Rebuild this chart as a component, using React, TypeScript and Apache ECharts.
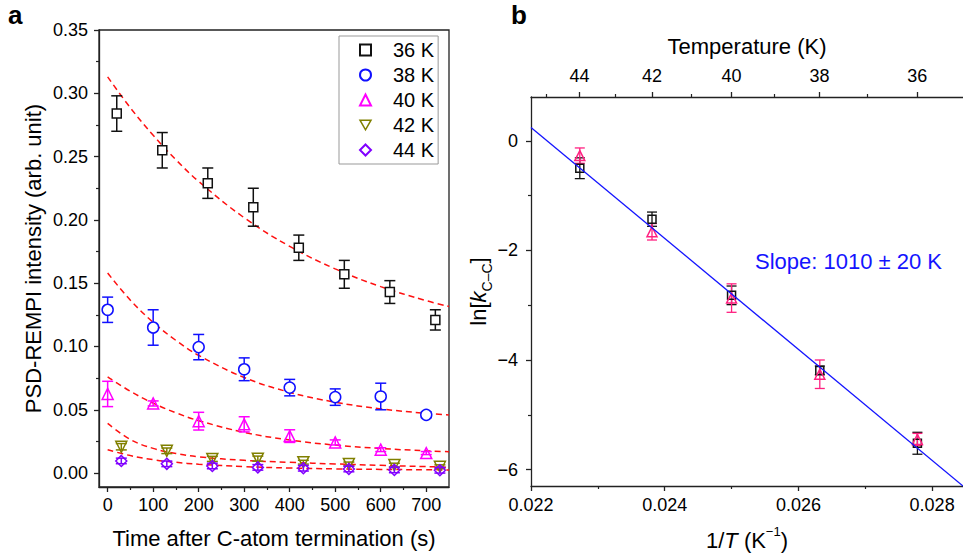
import React, { useEffect, useRef } from 'react';
import * as echarts from 'echarts';

const FONT = "'Liberation Sans', Arial, Helvetica, sans-serif";
const AX = '#222';

// ---------- Panel a data ----------
const t36 = [20, 120, 220, 320, 420, 520, 620, 720];
const v36 = [0.284, 0.255, 0.229, 0.21, 0.178, 0.157, 0.143, 0.121];
const e36 = [0.014, 0.014, 0.012, 0.015, 0.01, 0.011, 0.009, 0.008];

const t38 = [0, 100, 200, 300, 400, 500, 600, 700];
const v38 = [0.129, 0.115, 0.0995, 0.082, 0.0675, 0.06, 0.0605, 0.046];
const e38 = [0.01, 0.014, 0.01, 0.009, 0.0065, 0.0065, 0.0105, 0.0022];

const t40 = [0, 100, 200, 300, 400, 500, 600, 700];
const v40 = [0.0625, 0.055, 0.041, 0.0385, 0.0292, 0.0242, 0.0185, 0.0158];
const e40 = [0.01, 0.002, 0.007, 0.006, 0.005, 0.002, 0.0015, 0.0012];

const t42 = [30, 130, 230, 330, 430, 530, 630, 730];
const v42 = [0.0208, 0.0176, 0.0112, 0.0114, 0.0086, 0.0072, 0.0063, 0.005];
const e42 = [0.0025, 0.0022, 0.002, 0.002, 0.0015, 0.0015, 0.0015, 0.0015];

const t44 = [30, 130, 230, 330, 430, 530, 630, 730];
const v44 = [0.0096, 0.0073, 0.0056, 0.0045, 0.0038, 0.0032, 0.0025, 0.0022];
const e44 = [0.0022, 0.0022, 0.0022, 0.0022, 0.0022, 0.0022, 0.0022, 0.0022];

// fitted decay curves
const fitT = [0, 50, 100, 150, 200, 300, 400, 500, 600, 700, 750];
const fit36 = [0.313, 0.2885, 0.2668, 0.2475, 0.2304, 0.2017, 0.1791, 0.1613, 0.1473, 0.1362, 0.1316];
const fit38 = [0.158, 0.1366, 0.1191, 0.1048, 0.093, 0.0755, 0.0638, 0.056, 0.0507, 0.0472, 0.0459];
const fit40 = [0.076, 0.0646, 0.0552, 0.0476, 0.0414, 0.0322, 0.0261, 0.0221, 0.0194, 0.0176, 0.0169];
const fit42 = [0.0392, 0.0265, 0.0195, 0.0155, 0.0128, 0.0101, 0.0085, 0.0072, 0.0061, 0.0051, 0.0046];
const fit44 = [0.0184, 0.0138, 0.0106, 0.0085, 0.007, 0.0051, 0.004, 0.0033, 0.0029, 0.0026, 0.0025];

const legendNames = ['36 K', '38 K', '40 K', '42 K', '44 K'];

const aXTicks = [0, 100, 200, 300, 400, 500, 600, 700];
const aXMinor = [50, 150, 250, 350, 450, 550, 650];
const aYTicks = [0, 0.05, 0.1, 0.15, 0.2, 0.25, 0.3, 0.35];
const aYMinor = [0.025, 0.075, 0.125, 0.175, 0.225, 0.275, 0.325];

// ---------- Panel b data ----------
const invT = [0.02273, 0.02381, 0.025, 0.02632, 0.02778];
const lnSq = [-0.5, -1.43, -2.82, -4.19, -5.52];
const errSq = [0.19, 0.13, 0.17, 0.08, 0.2];
const lnTri = [-0.27, -1.66, -2.87, -4.26, -5.45];
const errTri = [0.14, 0.15, 0.26, 0.26, 0.11];
const fitLine = [
  [0.022, 0.245],
  [0.028462, -6.3],
];

const bXTicks = [0.022, 0.024, 0.026, 0.028];
const bXMinor = [0.023, 0.025, 0.027];
const bYTicks = [-6, -4, -2, 0];
const bYMinor = [-5, -3, -1];
const tempTicks = [44, 42, 40, 38, 36];
const tempMinor = [45, 43, 41, 39, 37];

const minus = (v: number) => (v < 0 ? '\u2212' + Math.abs(v) : String(v));

function errorBar(
  name: string,
  xs: number[],
  ys: number[],
  es: number[],
  color: string,
  cap: number,
  xAxisIndex: number,
  yAxisIndex: number,
  lw: number,
  z: number
) {
  return {
    type: 'custom',
    name,
    xAxisIndex,
    yAxisIndex,
    silent: true,
    z,
    data: xs.map((x, i) => [x, ys[i] - es[i], ys[i] + es[i]]),
    encode: { x: 0, y: [1, 2] },
    renderItem: (_p: any, api: any) => {
      const x = api.value(0);
      const lo = api.value(1);
      const hi = api.value(2);
      const p1 = api.coord([x, lo]);
      const p2 = api.coord([x, hi]);
      const style = { stroke: color, lineWidth: lw, fill: 'none' };
      return {
        type: 'group',
        children: [
          { type: 'line', shape: { x1: p1[0], y1: p1[1], x2: p2[0], y2: p2[1] }, style },
          { type: 'line', shape: { x1: p1[0] - cap, y1: p1[1], x2: p1[0] + cap, y2: p1[1] }, style },
          { type: 'line', shape: { x1: p2[0] - cap, y1: p2[1], x2: p2[0] + cap, y2: p2[1] }, style },
        ],
      };
    },
  };
}

function scatter(
  name: string,
  xs: number[],
  ys: number[],
  color: string,
  symbol: string,
  size: number,
  fill: string,
  xAxisIndex: number,
  yAxisIndex: number,
  rotate = 0,
  z = 4
) {
  return {
    type: 'scatter',
    name,
    xAxisIndex,
    yAxisIndex,
    symbol,
    symbolSize: size,
    symbolRotate: rotate,
    silent: true,
    z,
    itemStyle: { color: fill, borderColor: color, borderWidth: 1.5, opacity: 1 },
    data: xs.map((x, i) => [x, ys[i]]),
  };
}

function fit(name: string, ys: number[]) {
  return {
    type: 'line',
    name,
    xAxisIndex: 0,
    yAxisIndex: 0,
    silent: true,
    smooth: 0.4,
    showSymbol: false,
    symbol: 'none',
    z: 1,
    lineStyle: { color: '#ff1010', width: 1.5, type: [6, 4] },
    data: fitT.map((t, i) => [t, ys[i]]),
  };
}

const tickLabel = { fontFamily: FONT, fontSize: 18, color: '#000' };

function mainX(gridIndex: number, min: number, max: number, ticks: number[], fmt: (v: number) => string, position: string, margin: number, extra: any = {}) {
  return {
    type: 'value',
    gridIndex,
    min,
    max,
    position,
    axisLine: { show: true, onZero: false, lineStyle: { color: AX, width: 1.3 } },
    axisTick: { show: true, customValues: ticks, length: 5, lineStyle: { color: AX, width: 1.3 } },
    axisLabel: { ...tickLabel, customValues: ticks, formatter: fmt, margin },
    splitLine: { show: false },
    ...extra,
  };
}

function minorAxis(gridIndex: number, min: number, max: number, ticks: number[], position: string) {
  return {
    type: 'value',
    gridIndex,
    min,
    max,
    position,
    offset: 0,
    axisLine: { show: false, onZero: false },
    axisTick: { show: true, customValues: ticks, length: 3, lineStyle: { color: AX, width: 1.2 } },
    axisLabel: { show: false },
    splitLine: { show: false },
  };
}

const nameStyle = { fontFamily: FONT, fontSize: 22, color: '#000', lineHeight: 22 };

const downTriangleIcon = 'path://M0,0 L10,0 L5,8.66 Z';

const option: any = {
  animation: false,
  backgroundColor: '#fff',
  textStyle: { fontFamily: FONT },
  grid: [
    { left: 99, top: 30, width: 350, height: 457, show: true, borderColor: AX, borderWidth: 1.3, backgroundColor: 'transparent' },
    { left: 531, top: 97, width: 432, height: 389, show: false },
  ],
  legend: {
    data: legendNames.map((n, i) =>
      i === 3
        ? { name: n, icon: downTriangleIcon, itemStyle: { color: 'rgba(255,255,255,0)', borderColor: '#808000', borderWidth: 1.5 } }
        : { name: n }
    ),
    orient: 'vertical',
    left: 339,
    top: 36,
    padding: [4, 4, 4, 20],
    itemWidth: 11,
    itemHeight: 11,
    itemGap: 5,
    selectedMode: false,
    borderColor: '#999',
    borderWidth: 1,
    backgroundColor: '#fff',
    textStyle: { fontFamily: FONT, fontSize: 20, color: '#000', lineHeight: 20, padding: [0, 0, 0, 17] },
  },
  xAxis: [
    mainX(0, -19, 750, aXTicks, (v) => String(v), 'bottom', 9, {
      name: 'Time after C-atom termination (s)',
      nameLocation: 'middle',
      nameGap: 40,
      nameTextStyle: nameStyle,
    }),
    minorAxis(0, -19, 750, aXMinor, 'bottom'),
    mainX(1, 0.022, 0.028462, bXTicks, (v) => v.toFixed(3), 'bottom', 10, {
      name: '{n|1/}{i|T}{n| (K}{s|\u22121}{n|)}',
      nameLocation: 'middle',
      nameGap: 39,
      nameTextStyle: {
        rich: {
          n: { fontFamily: FONT, fontSize: 22, color: '#000', lineHeight: 30 },
          i: { fontFamily: FONT, fontSize: 22, color: '#000', lineHeight: 30, fontStyle: 'italic' },
          s: { fontFamily: FONT, fontSize: 13, color: '#000', lineHeight: 13, verticalAlign: 'top' },
        },
      },
    }),
    minorAxis(1, 0.022, 0.028462, bXMinor, 'bottom'),
    mainX(
      1,
      0.022,
      0.028462,
      tempTicks.map((T) => 1 / T),
      (v) => String(Math.round(1 / v)),
      'top',
      12,
      {
        name: 'Temperature (K)',
        nameLocation: 'middle',
        nameGap: 40,
        nameTextStyle: nameStyle,
      }
    ),
    minorAxis(1, 0.022, 0.028462, tempMinor.map((T) => 1 / T), 'top'),
  ],
  yAxis: [
    {
      type: 'value',
      gridIndex: 0,
      min: -0.011,
      max: 0.35,
      position: 'left',
      axisLine: { show: true, onZero: false, lineStyle: { color: AX, width: 1.3 } },
      axisTick: { show: true, customValues: aYTicks, length: 5, lineStyle: { color: AX, width: 1.3 } },
      axisLabel: { ...tickLabel, customValues: aYTicks, formatter: (v: number) => v.toFixed(2), margin: 11 },
      splitLine: { show: false },
      name: 'PSD-REMPI intensity (arb. unit)',
      nameLocation: 'middle',
      nameGap: 55,
      nameTextStyle: nameStyle,
    },
    minorAxis(0, -0.011, 0.35, aYMinor, 'left'),
    {
      type: 'value',
      gridIndex: 1,
      min: -6.3,
      max: 0.8,
      position: 'left',
      axisLine: { show: true, onZero: false, lineStyle: { color: AX, width: 1.3 } },
      axisTick: { show: true, customValues: bYTicks, length: 5, lineStyle: { color: AX, width: 1.3 } },
      axisLabel: { ...tickLabel, customValues: bYTicks, formatter: minus, margin: 13 },
      splitLine: { show: false },
      name: '{n|ln[}{i|k}{s|C\u2013C}{n|]}',
      nameLocation: 'middle',
      nameGap: 35,
      nameTextStyle: {
        rich: {
          n: { fontFamily: FONT, fontSize: 22, color: '#000', lineHeight: 30 },
          i: { fontFamily: FONT, fontSize: 22, color: '#000', lineHeight: 30, fontStyle: 'italic' },
          s: { fontFamily: FONT, fontSize: 14, color: '#000', lineHeight: 14, verticalAlign: 'bottom' },
        },
      },
    },
    minorAxis(1, -6.3, 0.8, bYMinor, 'left'),
  ],
  graphic: [
    { type: 'text', left: 8, top: 2, style: { text: 'a', font: `bold 26px ${FONT}`, fill: '#000' } },
    { type: 'text', left: 511, top: 2, style: { text: 'b', font: `bold 26px ${FONT}`, fill: '#000' } },
    { type: 'text', left: 755, top: 250, style: { text: 'Slope: 1010 \u00b1 20 K', font: `22px ${FONT}`, fill: '#1414ff' } },
  ],
  series: [
    fit('f36', fit36),
    fit('f38', fit38),
    fit('f40', fit40),
    fit('f42', fit42),
    fit('f44', fit44),
    errorBar('e36', t36, v36, e36, '#111', 5.5, 0, 0, 1.5, 2),
    errorBar('e38', t38, v38, e38, '#1010ff', 5.5, 0, 0, 1.5, 2),
    errorBar('e40', t40, v40, e40, '#ff00ff', 5.5, 0, 0, 1.5, 2),
    errorBar('e42', t42, v42, e42, '#808000', 5.5, 0, 0, 1.5, 2),
    scatter('36 K', t36, v36, '#111', 'rect', 9, '#fff', 0, 0),
    scatter('38 K', t38, v38, '#1010ff', 'circle', 11, '#fff', 0, 0),
    scatter('40 K', t40, v40, '#ff00ff', 'triangle', 11, 'rgba(255,255,255,0)', 0, 0),
    scatter('42 K', t42, v42, '#808000', 'triangle', 11, 'rgba(255,255,255,0)', 0, 0, 180),
    scatter('44 K', t44, v44, '#8000ff', 'diamond', 11, 'rgba(255,255,255,0)', 0, 0),
    errorBar('e44', t44, v44, e44, '#8000ff', 5.5, 0, 0, 1.5, 5),
    // panel b
    errorBar('eb1', invT, lnSq, errSq, '#111', 5, 2, 2, 1.3, 2),
    errorBar('eb2', invT, lnTri, errTri, '#ff2080', 5, 2, 2, 1.3, 2),
    scatter('sq', invT, lnSq, '#111', 'rect', 8, 'rgba(255,255,255,0)', 2, 2),
    scatter('tri', invT, lnTri, '#ff2080', 'triangle', 10, 'rgba(255,255,255,0)', 2, 2),
    {
      type: 'line',
      name: 'slope',
      xAxisIndex: 2,
      yAxisIndex: 2,
      silent: true,
      showSymbol: false,
      symbol: 'none',
      z: 6,
      lineStyle: { color: '#1414ff', width: 1.3 },
      data: fitLine,
    },
  ],
};

export default function App() {
  const ref = useRef<HTMLDivElement>(null);
  useEffect(() => {
    const chart = echarts.init(ref.current!, null, { renderer: 'svg' });
    chart.setOption(option);
    return () => chart.dispose();
  }, []);
  return (
    <div
      ref={ref}
      style={{ position: 'fixed', left: 0, top: 0, width: 963, height: 559, background: '#fff' }}
    />
  );
}
